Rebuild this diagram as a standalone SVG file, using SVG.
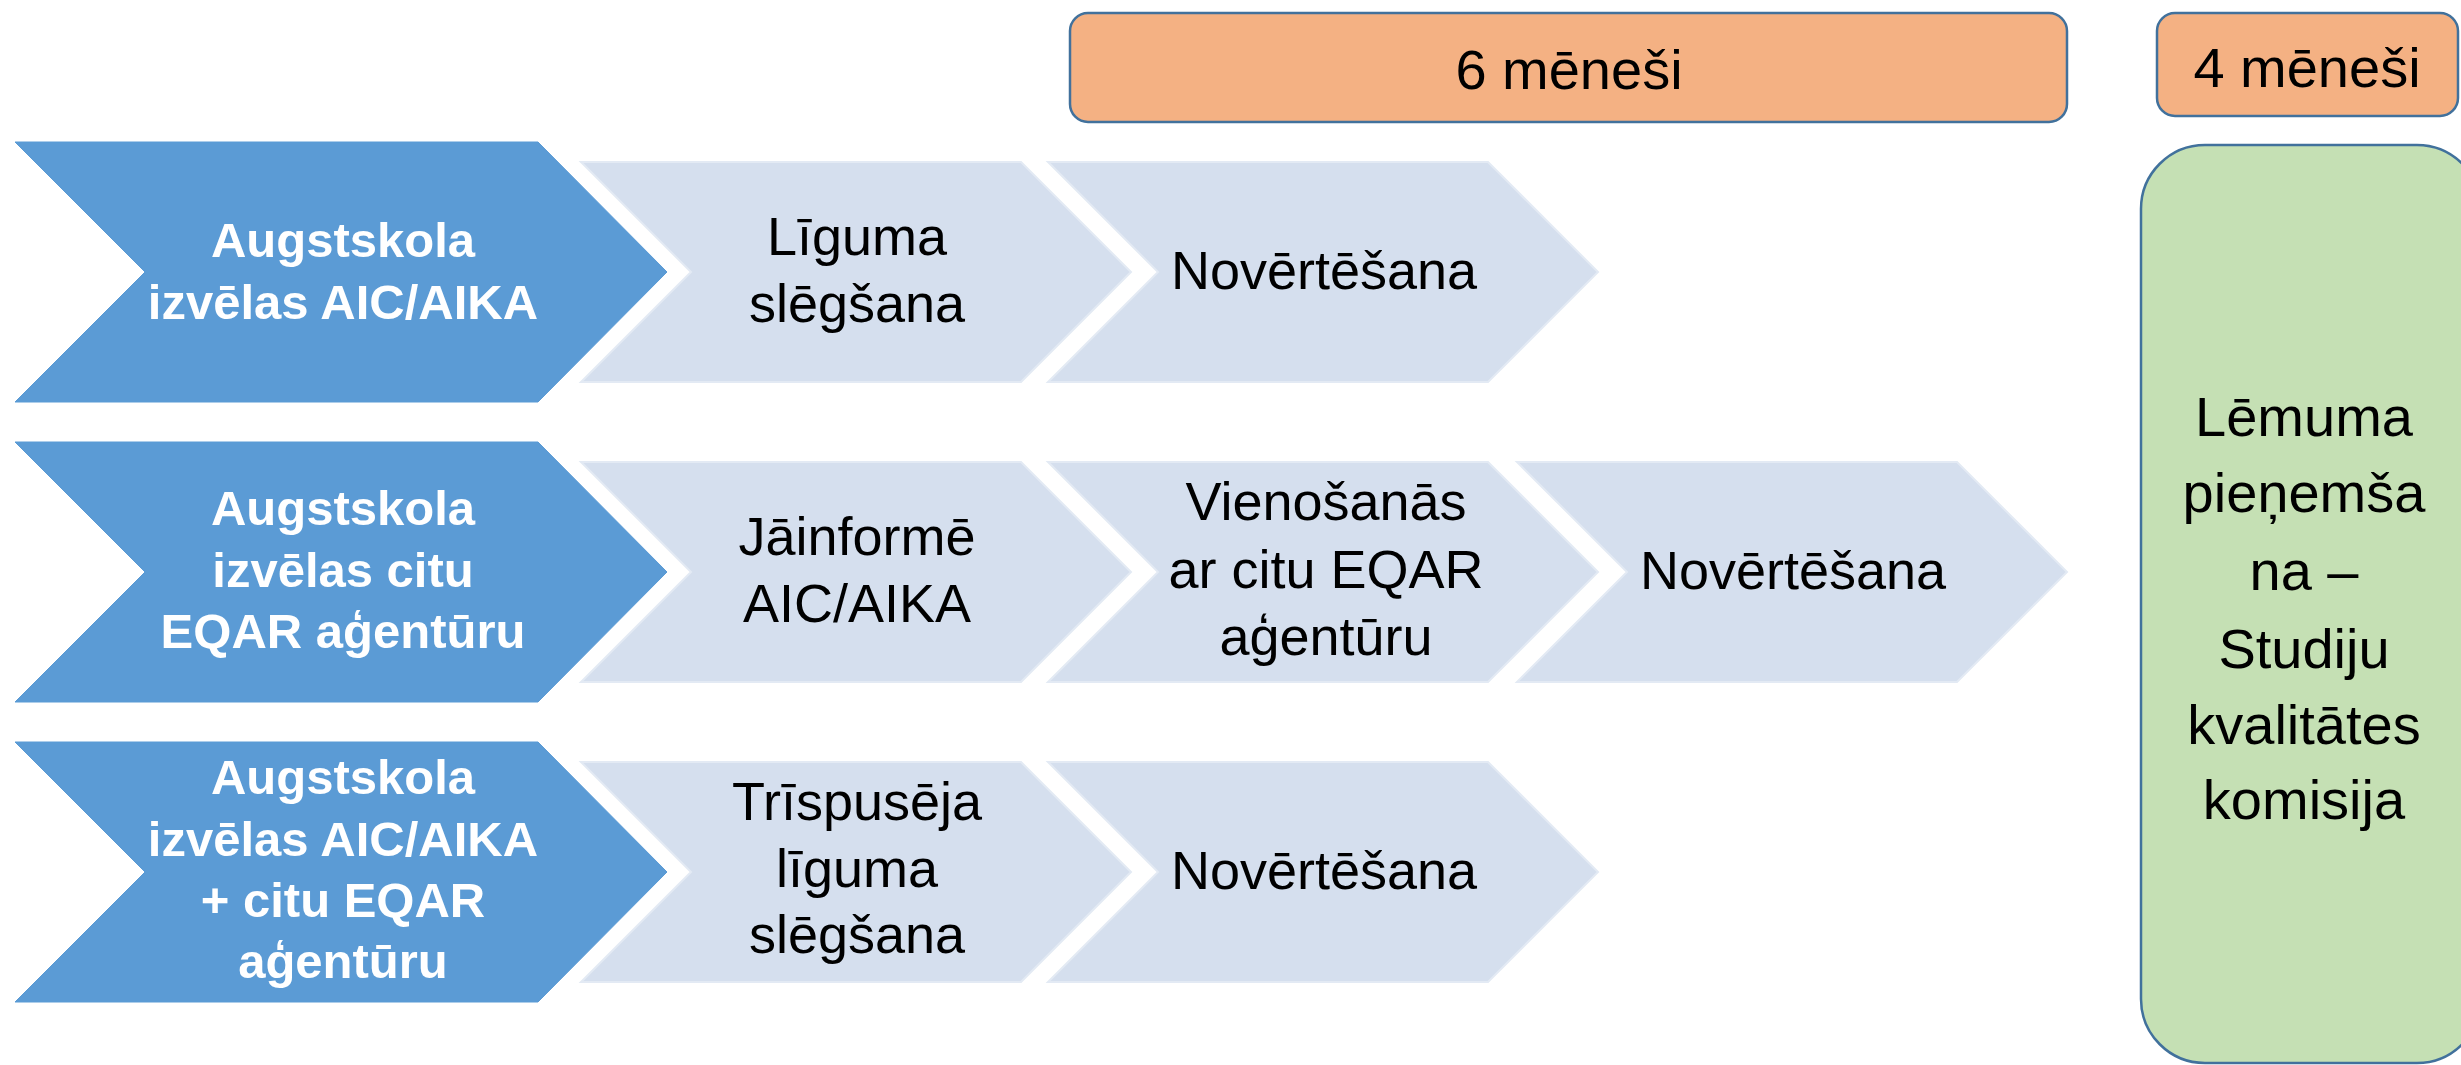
<svg xmlns="http://www.w3.org/2000/svg" width="2461" height="1065" viewBox="0 0 2461 1065">
<style>
.blue{fill:#5B9BD5;stroke:#5B9BD5;stroke-width:1}
.light{fill:#D5DFEE;stroke:#E3EAF4;stroke-width:2}
.orange{fill:#F4B183;stroke:#41719C;stroke-width:2.5}
.green{fill:#C5E0B4;stroke:#41719C;stroke-width:2.5}
text{font-family:"Liberation Sans",Arial,sans-serif;text-anchor:middle}
.bt{font-size:49px;font-weight:bold;fill:#FFFFFF}
.lt{font-size:54px;fill:#000000}
.ot{font-size:56px;fill:#000000}
.gt{font-size:56px;fill:#000000}
</style>
<rect width="2461" height="1065" fill="#FFFFFF"/>

<g id="header-6">
<rect class="orange" x="1070" y="13" width="997" height="109" rx="18" ry="18"/>
<text class="ot" x="1569" y="89">6 mēneši</text>
</g>
<g id="header-4">
<rect class="orange" x="2157" y="13" width="301" height="103" rx="18" ry="18"/>
<text class="ot" x="2307" y="87">4 mēneši</text>
</g>

<g id="decision">
<rect class="green" x="2141" y="145" width="340" height="918" rx="64" ry="64"/>
<text class="gt" x="2304" y="436">Lēmuma</text>
<text class="gt" x="2304" y="512">pieņemša</text>
<text class="gt" x="2304" y="590">na –</text>
<text class="gt" x="2304" y="668">Studiju</text>
<text class="gt" x="2304" y="744">kvalitātes</text>
<text class="gt" x="2304" y="819">komisija</text>
</g>

<!-- Row 1 -->
<g id="r1-start">
<polygon class="blue" points="15,142 538,142 667,272 538,402 15,402 145,272"/>
<text class="bt" x="343" y="257">Augstskola</text>
<text class="bt" x="343" y="319">izvēlas AIC/AIKA</text>
</g>
<g id="r1-step1">
<polygon class="light" points="581,162 1021,162 1131,272 1021,382 581,382 691,272"/>
<text class="lt" x="857" y="255">Līguma</text>
<text class="lt" x="857" y="322">slēgšana</text>
</g>
<g id="r1-step2">
<polygon class="light" points="1048,162 1488,162 1598,272 1488,382 1048,382 1158,272"/>
<text class="lt" x="1324" y="289">Novērtēšana</text>
</g>

<!-- Row 2 -->
<g id="r2-start">
<polygon class="blue" points="15,442 538,442 667,572 538,702 15,702 145,572"/>
<text class="bt" x="343" y="525">Augstskola</text>
<text class="bt" x="343" y="587">izvēlas citu</text>
<text class="bt" x="343" y="648">EQAR aģentūru</text>
</g>
<g id="r2-step1">
<polygon class="light" points="581,462 1021,462 1131,572 1021,682 581,682 691,572"/>
<text class="lt" x="857" y="555">Jāinformē</text>
<text class="lt" x="857" y="622">AIC/AIKA</text>
</g>
<g id="r2-step2">
<polygon class="light" points="1048,462 1488,462 1598,572 1488,682 1048,682 1158,572"/>
<text class="lt" x="1326" y="520">Vienošanās</text>
<text class="lt" x="1326" y="588">ar citu EQAR</text>
<text class="lt" x="1326" y="655">aģentūru</text>
</g>
<g id="r2-step3">
<polygon class="light" points="1517,462 1957,462 2067,572 1957,682 1517,682 1627,572"/>
<text class="lt" x="1793" y="589">Novērtēšana</text>
</g>

<!-- Row 3 -->
<g id="r3-start">
<polygon class="blue" points="15,742 538,742 667,872 538,1002 15,1002 145,872"/>
<text class="bt" x="343" y="794">Augstskola</text>
<text class="bt" x="343" y="856">izvēlas AIC/AIKA</text>
<text class="bt" x="343" y="917">+ citu EQAR</text>
<text class="bt" x="343" y="978">aģentūru</text>
</g>
<g id="r3-step1">
<polygon class="light" points="581,762 1021,762 1131,872 1021,982 581,982 691,872"/>
<text class="lt" x="857" y="820">Trīspusēja</text>
<text class="lt" x="857" y="887">līguma</text>
<text class="lt" x="857" y="953">slēgšana</text>
</g>
<g id="r3-step2">
<polygon class="light" points="1048,762 1488,762 1598,872 1488,982 1048,982 1158,872"/>
<text class="lt" x="1324" y="889">Novērtēšana</text>
</g>

<g id="connectors"></g>
</svg>
